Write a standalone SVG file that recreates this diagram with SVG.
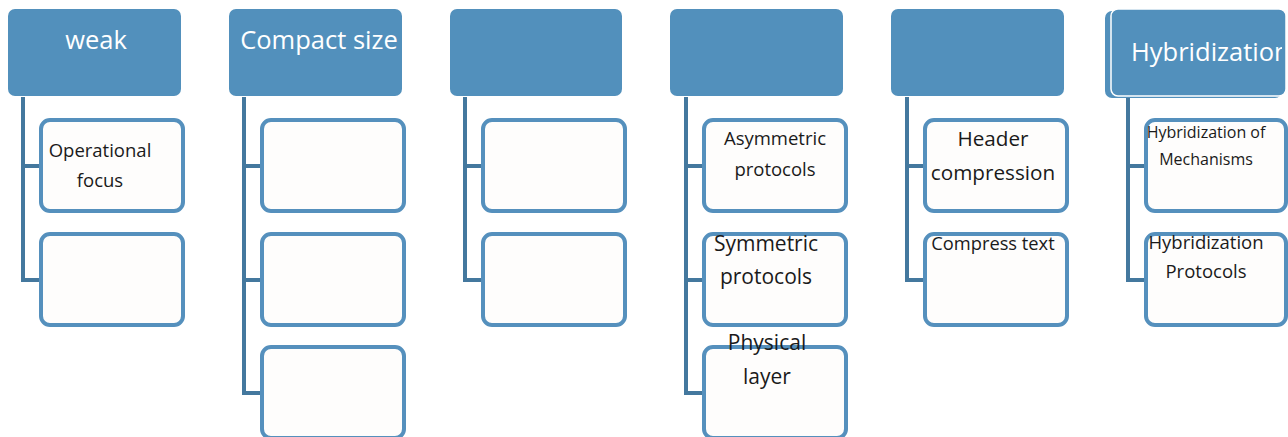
<svg xmlns="http://www.w3.org/2000/svg" width="1288" height="437" viewBox="0 0 1288 437">
<style>
.hd{fill:#5290BC;}
.ch{fill:#FEFDFC;stroke:#5590BD;stroke-width:4;}
.cn{fill:none;stroke:#44789E;stroke-width:4;}
.ht{font-family:"Open Sans",sans-serif;font-size:25.5px;fill:#FFFFFF;text-anchor:middle;}
.t{font-family:"Open Sans",sans-serif;fill:#1A1A1A;text-anchor:middle;}
</style>
<defs><clipPath id="cp6"><rect x="1105" y="9" width="177" height="89"/></clipPath></defs>
<rect width="1288" height="437" fill="#FFFFFF"/>
<g id="connectors">
<path class="cn" d="M23 97 V280 H41 M23 166 H41"/>
<path class="cn" d="M244 97 V393 H262 M244 166 H262 M244 280 H262"/>
<path class="cn" d="M465 97 V280 H483 M465 166 H483"/>
<path class="cn" d="M686 97 V393 H704 M686 166 H704 M686 280 H704"/>
<path class="cn" d="M907 97 V280 H925 M907 166 H925"/>
<path class="cn" d="M1128 97 V280 H1146 M1128 166 H1146"/>
</g>
<g id="h1"><rect class="hd" x="8" y="9" width="173" height="87" rx="7"/><text class="ht" x="96" y="49">weak</text></g>
<g id="h2"><rect class="hd" x="229" y="9" width="173" height="87" rx="7"/><text class="ht" x="319" y="49">Compact size</text></g>
<g id="h3"><rect class="hd" x="450" y="9" width="172" height="87" rx="7"/></g>
<g id="h4"><rect class="hd" x="670" y="9" width="173" height="87" rx="7"/></g>
<g id="h5"><rect class="hd" x="891" y="9" width="173" height="87" rx="7"/></g>
<g id="h6"><rect class="hd" x="1105" y="11" width="177" height="87" rx="7"/><rect class="hd" x="1111" y="9" width="175" height="87" rx="7" stroke="#FFFFFF" stroke-width="1.5"/><g clip-path="url(#cp6)"><text class="ht" x="1131" y="61" style="text-anchor:start">Hybridization</text></g></g>
<g id="c1a"><rect class="ch" x="41" y="120" width="142" height="91" rx="9"/><text class="t" font-size="18.5" x="100" y="157">Operational</text><text class="t" font-size="18.5" x="100" y="187">focus</text></g>
<g id="c1b"><rect class="ch" x="41" y="234" width="142" height="91" rx="9"/></g>
<g id="c2a"><rect class="ch" x="262" y="120" width="142" height="91" rx="9"/></g>
<g id="c2b"><rect class="ch" x="262" y="234" width="142" height="91" rx="9"/></g>
<g id="c2c"><rect class="ch" x="262" y="347" width="142" height="91" rx="9"/></g>
<g id="c3a"><rect class="ch" x="483" y="120" width="142" height="91" rx="9"/></g>
<g id="c3b"><rect class="ch" x="483" y="234" width="142" height="91" rx="9"/></g>
<g id="c4a"><rect class="ch" x="704" y="120" width="142" height="91" rx="9"/><text class="t" font-size="18.5" x="775" y="145">Asymmetric</text><text class="t" font-size="18.5" x="775" y="176">protocols</text></g>
<g id="c4b"><rect class="ch" x="704" y="234" width="142" height="91" rx="9"/><text class="t" font-size="21" x="766" y="251">Symmetric</text><text class="t" font-size="21" x="766" y="284">protocols</text></g>
<g id="c4c"><rect class="ch" x="704" y="347" width="142" height="91" rx="9"/><text class="t" font-size="21" x="767" y="350">Physical</text><text class="t" font-size="21" x="767" y="384">layer</text></g>
<g id="c5a"><rect class="ch" x="925" y="120" width="142" height="91" rx="9"/><text class="t" font-size="20.7" x="993" y="146">Header</text><text class="t" font-size="20.7" x="993" y="180">compression</text></g>
<g id="c5b"><rect class="ch" x="925" y="234" width="142" height="91" rx="9"/><text class="t" font-size="18.3" x="993" y="250">Compress text</text></g>
<g id="c6a"><rect class="ch" x="1146" y="120" width="140" height="91" rx="9"/><text class="t" font-size="16" x="1206" y="138">Hybridization of</text><text class="t" font-size="16" x="1206" y="165">Mechanisms</text></g>
<g id="c6b"><rect class="ch" x="1146" y="234" width="140" height="91" rx="9"/><text class="t" font-size="18.5" x="1206" y="249">Hybridization</text><text class="t" font-size="18.5" x="1206" y="278">Protocols</text></g>
</svg>
